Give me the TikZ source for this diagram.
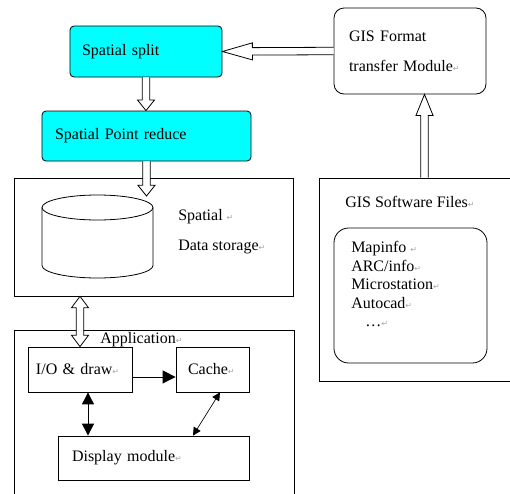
\documentclass[tikz,border=0pt]{standalone}
\usepackage{fontspec}
\setmainfont{Liberation Serif}
\newfontfamily\markfont{DejaVu Sans}
\usepackage{tikz}
\usetikzlibrary{arrows.meta,calc}

\definecolor{stepcyan}{RGB}{0,255,255}
% small grey paragraph mark after the labels
\newcommand\pmark{{\markfont\fontsize{6pt}{6pt}\selectfont\color{gray!70}↵}}

\tikzset{
  plainbox/.style={draw, line width=0.6pt, inner sep=0pt, align=left},
  cyanbox/.style={plainbox, fill=stepcyan, rounded corners=3pt},
  roundbox/.style={plainbox, rounded corners=7.5pt},
  hollow/.style={draw, fill=white, line width=0.6pt},
  solidarrow/.style={line width=0.7pt, {Triangle[length=9pt,width=9pt]}-{Triangle[length=9pt,width=9pt]}},
}

% hollow block arrow: [head length]{from}{to}
\newcommand\blockarrow[3][11pt]{%
  \path[hollow] let \p1=#2, \p2=#3, \n1={atan2(\y2-\y1,\x2-\x1)}, \n2={veclen(\x2-\x1,\y2-\y1)} in
    [shift={(\p1)}, rotate=\n1]
    (0pt,2.8pt) -- (\n2-#1,2.8pt) -- (\n2-#1,6.4pt) -- (\n2,0pt)
    -- (\n2-#1,-6.4pt) -- (\n2-#1,-2.8pt) -- (0pt,-2.8pt);
}
% same with a head on both ends
\newcommand\dblockarrow[3][9pt]{%
  \path[hollow] let \p1=#2, \p2=#3, \n1={atan2(\y2-\y1,\x2-\x1)}, \n2={veclen(\x2-\x1,\y2-\y1)} in
    [shift={(\p1)}, rotate=\n1]
    (0pt,0pt) -- (#1,6.4pt) -- (#1,2.8pt) -- (\n2-#1,2.8pt) -- (\n2-#1,6.4pt) -- (\n2,0pt)
    -- (\n2-#1,-6.4pt) -- (\n2-#1,-2.8pt) -- (#1,-2.8pt) -- (#1,-6.4pt) -- cycle;
}

\begin{document}
\begin{tikzpicture}[x=0.75pt,y={(0,-0.75pt)},font=\fontsize{12pt}{14pt}\selectfont]
\useasboundingbox (0,0) rectangle (510,493);

%processing steps
\node[cyanbox, minimum width=114pt, minimum height=38.25pt, text width=96pt] (split) at (146,51.5) {Spatial split};
\node[cyanbox, minimum width=156.75pt, minimum height=37.5pt, text width=137.25pt] (reduce) at (146.5,136) {Spatial Point reduce};
\node[roundbox, minimum width=114pt, minimum height=64.5pt, text width=91.5pt,
      font=\fontsize{12pt}{22.5pt}\selectfont] (fmt) at (410,51) {GIS Format\\transfer Module\pmark};

%storage with the database drum
\node[plainbox, minimum width=209.25pt, minimum height=88.5pt] (store) at (153.5,237) {};
\draw[line width=0.6pt] (97.5,207.5) ellipse [x radius=55.5, y radius=12.5];
\draw[line width=0.6pt] (42,207.5) -- (42,265.5) arc[start angle=180, end angle=0, x radius=55.5, y radius=12.5] -- (153,207.5);
\node[anchor=west, inner sep=0pt, align=left, font=\fontsize{12pt}{22.5pt}\selectfont] (storetxt) at (178,232) {Spatial \pmark\\Data storage\pmark};
\coordinate (dbin) at (146.5,196);

%application part
\node[plainbox, minimum width=210pt, minimum height=142.5pt] (app) at (154,425) {};
\node[anchor=west, inner sep=0pt] (apptxt) at (100,340) {Application\pmark};
\node[plainbox, minimum width=78pt, minimum height=33.75pt, text width=66pt] (io) at (80,369.5) {I/O \& draw\pmark};
\node[plainbox, minimum width=54.75pt, minimum height=33.75pt, text width=36.75pt] (cache) at (212.5,369.5) {Cache\pmark};
\node[plainbox, minimum width=143.25pt, minimum height=33pt, text width=122.25pt] (disp) at (153.5,458) {Display module\pmark};

%source files
\node[plainbox, minimum width=158.25pt, minimum height=152.25pt] (files) at (424.5,279.5) {};
\node[anchor=west, inner sep=0pt] (filestxt) at (345,202) {GIS Software Files\pmark};
\node[roundbox, rounded corners=11pt, minimum width=114.75pt, minimum height=101.25pt] (list) at (410.5,295.5) {};
\node[anchor=north west, inner sep=0pt, align=left, font=\fontsize{12pt}{13.9pt}\selectfont] (listtxt) at (351,241)
  {Mapinfo \pmark\\ARC/info\pmark\\Microstation\pmark\\Autocad\pmark\\\hspace*{10.5pt}…\pmark};

%block arrows
\blockarrow[22.5pt]{(fmt.west)}{(split.east)}
\blockarrow[8pt]{(split.south)}{(split.south |- reduce.north)}
\blockarrow[8pt]{(reduce.south)}{(dbin)}
\blockarrow[15.75pt]{(files.north)}{(files.north |- fmt.south)}
\dblockarrow[8.5pt]{(io.north |- store.south)}{(io.north)}

%links inside the application
\draw[line width=0.7pt, -{Triangle[length=9.75pt,width=9.75pt]}] ([yshift=-5.6pt]io.east) -- ([yshift=-5.6pt]cache.west);
\draw[solidarrow] ([xshift=6pt]io.south) -- ([xshift=6pt]io.south |- disp.north);
\draw[line width=0.5pt, {Triangle[length=6pt,width=6pt]}-{Triangle[length=6pt,width=6pt]}] ([xshift=5.6pt]cache.south) -- ([xshift=29.6pt]disp.north);
\end{tikzpicture}
\end{document}
